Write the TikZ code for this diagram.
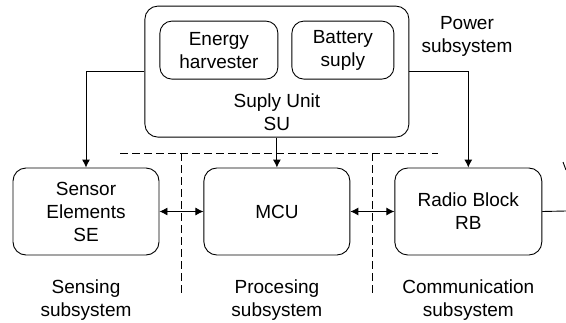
\documentclass[tikz,border=0pt]{standalone}
\usepackage{fontspec}
\setmainfont{Liberation Sans}
\usepackage{tikz}
\usetikzlibrary{arrows.meta,positioning}
\tikzstyle{block} = [rectangle, draw, line width=0.9pt, rounded corners=13pt, minimum width=146pt, minimum height=87pt, inner sep=0pt, text centered, align=center, font=\fontsize{19}{23}\selectfont]
\tikzstyle{source} = [rectangle, draw, line width=0.9pt, rounded corners=12pt, minimum height=58pt, inner sep=0pt, text centered, align=center, font=\fontsize{19}{23}\selectfont]
\tikzstyle{caption} = [inner sep=0pt, align=center, font=\fontsize{19}{23}\selectfont]
\tikzstyle{tedge}  = [draw, line width=0.9pt, >={Latex[length=8pt,width=8pt]}, ->]
\tikzstyle{bedge}  = [draw, line width=0.9pt, >={Latex[length=8pt,width=8pt]}, <->]
\tikzstyle{border} = [draw, line width=0.9pt, dash pattern=on 8pt off 4pt]

\begin{document}
\begin{tikzpicture}[x=1pt, y=-1pt]
\useasboundingbox (0,0) rectangle (566,322);

% blocks =============================

% subsystems
\node[block] (se) at (86,211.5) {Sensor\\Elements\\SE};
\node[block, right=44pt of se] (mcu) {MCU};
\node[block, minimum width=147pt, right=44pt of mcu] (rb) {Radio Block\\RB};

% supply unit
\node[block, minimum width=264pt, minimum height=131pt, above=30pt of mcu] (su) {};
\node[source, minimum width=118pt, below right=15pt and 15pt of su.north west] (eh) {Energy\\harvester};
\node[source, minimum width=102pt, below left=15pt and 15pt of su.north east] (bs) {Battery\\suply};
\node[caption, above=7pt of su.south] (sutext) {Suply Unit\\SU};

% captions
\node[caption, below right=11pt and 12pt of su.north east] (power) {Power\\subsystem};
\node[caption, below=24pt of se] (sensing) {Sensing\\subsystem};
\node[caption, below=24pt of mcu] (processing) {Procesing\\subsystem};
\node[caption, below=24pt of rb] (comm) {Communication\\subsystem};

% antenna
\coordinate (ant) at (566,211);
\coordinate (anttip) at (563,162);

% borders
\path[border] (120,153) -- (438,153);
\path[border] (181,153) -- (181,295);
\path[border] (372,153) -- (372,295);

%edges
\path[tedge] (su.west) -| (se.north);
\path[tedge] (su.south) -- (mcu.north);
\path[tedge] (su.east) -| (rb.north);

\path[bedge] (se) -- (mcu);
\path[bedge] (mcu) -- (rb);

\draw[line width=0.9pt] (rb.east) -- (ant);
\draw[line width=0.9pt] (anttip) -- ++(3,8);

\end{tikzpicture}
\end{document}
